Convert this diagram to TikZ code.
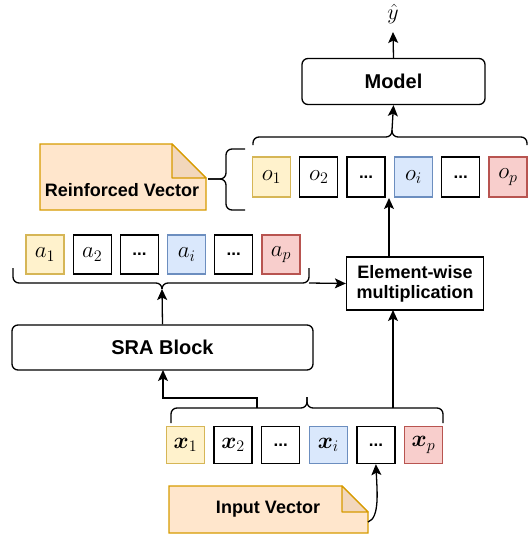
\RequirePackage{fix-cm}
\documentclass[tikz,border=0pt]{standalone}
\usepackage[no-math]{fontspec}
\setmainfont{Liberation Sans}
\usepackage{bm}
\usetikzlibrary{arrows.meta}
\definecolor{yfill}{HTML}{FFF2CC}\definecolor{ydraw}{HTML}{D6B656}
\definecolor{bfill}{HTML}{DAE8FC}\definecolor{bdraw}{HTML}{6C8EBF}
\definecolor{rfill}{HTML}{F8CECC}\definecolor{rdraw}{HTML}{B85450}
\definecolor{nfill}{HTML}{FFE6CC}\definecolor{ndraw}{HTML}{D79B00}
\definecolor{nfold}{HTML}{F2D7BC}
\newcommand{\mydots}{{\bfseries\fontsize{17}{17}\selectfont ...}}
\begin{document}
\begin{tikzpicture}[x=1pt,y=-1pt,
  cell/.style={draw, line width=1.3pt, minimum width=38pt, minimum height=38pt, inner sep=0pt, font=\fontsize{23}{26}\selectfont},
  wcell/.style={cell},
  ycell/.style={cell, fill=yfill, draw=ydraw},
  bcell/.style={cell, fill=bfill, draw=bdraw},
  rcell/.style={cell, fill=rfill, draw=rdraw},
  blk/.style={draw, line width=1.3pt, inner sep=0pt, font=\bfseries\fontsize{18}{21}\selectfont, align=center},
  arr/.style={-{Stealth[length=11pt,width=10pt,inset=2.5pt]}, line width=1.3pt},
  brc/.style={line width=1.3pt, rounded corners=6pt},
  note/.style={fill=nfill, draw=ndraw, line width=1.3pt},
  notefold/.style={fill=nfold, draw=ndraw, line width=1.3pt, line join=round}
]
\useasboundingbox (0,0) rectangle (528,535);

% top
\node[font=\fontsize{22}{24}\selectfont, inner sep=0pt] (yhat) at (393,14) {$\hat{y}$};
\node[blk, rounded corners=6pt, minimum width=183pt, minimum height=46pt, font=\bfseries\fontsize{20}{24}\selectfont] (model) at (393.5,81.5) {Model};
\coordinate (ytop) at (393,32);
\draw[arr] (model.north) -- (ytop);

% o cells
\foreach \i/\s/\t [count=\k from 0] in {1/ycell/{$o_1$},2/wcell/{$o_2$},3/wcell/{\mydots},4/bcell/{$o_i$},5/wcell/{\mydots},6/rcell/{$o_p$}}
  \node[\s, minimum width=38pt, minimum height=40pt] (o\i) at ({271.5+47.3*\k},177) {\t};

% top brace over o cells
\draw[brc] (253,145) -- (253,137) -- (392,137) -- (392,130);
\draw[brc] (392,130) -- (392,137) -- (527,137) -- (527,145);
\coordinate (otip) at (392,130);
\draw[arr] (otip) -- (model.south);

% left brace
\draw[brc] (245,149) -- (226,149) -- (226,179) -- (208,179);
\draw[brc] (208,179) -- (226,179) -- (226,210) -- (245,210);

% reinforced note
\draw[note] (40,144) -- (172,144) -- (206,178) -- (206,210) -- (40,210) -- cycle;
\draw[notefold] (172,144) -- (172,178) -- (206,178) -- cycle;
\node[font=\bfseries\fontsize{18}{21}\selectfont, inner sep=0pt] (rv) at (122,190) {Reinforced Vector};

% a cells
\foreach \i/\s/\t [count=\k from 0] in {1/ycell/{$a_1$},2/wcell/{$a_2$},3/wcell/{\mydots},4/bcell/{$a_i$},5/wcell/{\mydots},6/rcell/{$a_p$}}
  \node[\s, minimum width=38pt, minimum height=39pt] (a\i) at ({45+47.2*\k},254.5) {\t};

% a brace
\draw[brc] (13,268) -- (13,283) -- (162,283) -- (162,289);
\draw[brc] (162,289) -- (162,283) -- (309,283) -- (309,268);
\coordinate (atip) at (162,289);
\coordinate (aend) at (309,283);

% element-wise
\node[blk, minimum width=137pt, minimum height=53pt] (elem) at (415,283.5) {Element-wise\\[-1pt]multiplication};
\draw[arr] (aend) -- (elem.west);
\coordinate (etop) at (389,257);
\coordinate (obot) at (389,198);
\draw[arr] (etop) -- (obot);

% SRA
\node[blk, rounded corners=6pt, minimum width=301pt, minimum height=45pt, font=\bfseries\fontsize{20}{24}\selectfont] (sra) at (162.5,347.5) {SRA Block};
\draw[arr] (sra.north) -- (atip);

% x brace
\draw[brc] (171,423) -- (171,408) -- (307,408) -- (307,397);
\draw[brc] (307,397) -- (307,408) -- (443,408) -- (443,423);
\coordinate (xl) at (257,408);
\coordinate (xr) at (393,408);
\draw[arr] (xl) -- (257,398) -- (163,398) -- (163,370);
\coordinate (ebot) at (393,310);
\draw[arr] (xr) -- (ebot);

% x cells
\foreach \i/\s/\t [count=\k from 0] in {1/ycell/{$\bm{x}_1$},2/wcell/{$\bm{x}_2$},3/wcell/{\mydots},4/bcell/{$\bm{x}_i$},5/wcell/{\mydots},6/rcell/{$\bm{x}_p$}}
  \node[\s, minimum width=38pt, minimum height=37pt] (x\i) at ({185.5+47.6*\k},445) {\t};

% input note
\draw[note] (169,486) -- (342,486) -- (368,512) -- (368,533) -- (169,533) -- cycle;
\draw[notefold] (342,486) -- (342,512) -- (368,512) -- cycle;
\node[font=\bfseries\fontsize{18}{21}\selectfont, inner sep=0pt] (iv) at (268,509) {Input Vector};
\coordinate (nr) at (368,522);
\draw[arr] (nr) .. controls (380,518) and (377,490) .. (x5.south);
\end{tikzpicture}
\end{document}
